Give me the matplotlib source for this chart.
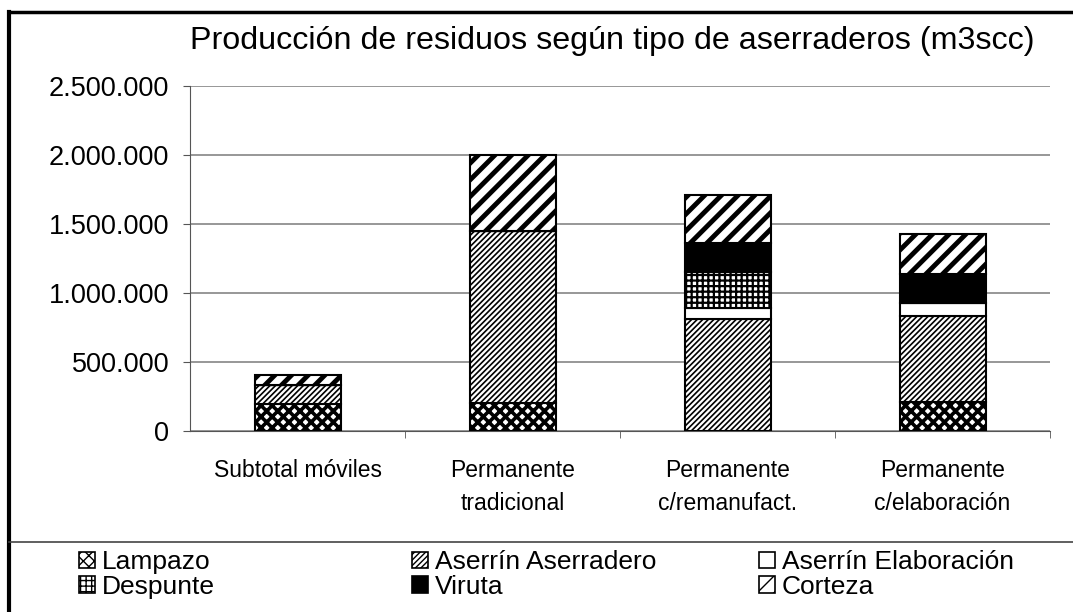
import matplotlib
matplotlib.use("Agg")
import matplotlib.pyplot as plt
from matplotlib.patches import Patch
from matplotlib.lines import Line2D
import numpy as np

plt.rcParams['font.family'] = ['Liberation Sans', 'DejaVu Sans']

categories = ["Subtotal móviles", "Permanente\ntradicional",
              "Permanente\nc/remanufact.", "Permanente\nc/elaboración"]
series_names = ["Lampazo", "Aserrín Aserradero", "Aserrín Elaboración",
                "Despunte", "Viruta", "Corteza"]
lampazo = [195000, 200000, 0, 210000]
aserrin_aserradero = [140000, 1250000, 810000, 620000]
aserrin_elaboracion = [0, 0, 80000, 100000]
despunte = [0, 0, 260000, 0]
viruta = [0, 0, 210000, 205000]
corteza = [70000, 550000, 350000, 290000]
yticks = [0, 500000, 1000000, 1500000, 2000000, 2500000]
ytick_labels = ["0", "500.000", "1.000.000", "1.500.000", "2.000.000", "2.500.000"]
title = "Producción de residuos según tipo de aserraderos (m3scc)"

series = [lampazo, aserrin_aserradero, aserrin_elaboracion, despunte, viruta, corteza]
styles = [
    dict(facecolor="white", hatch="xxx", hlw=2.6),
    dict(facecolor="white", hatch="//////", hlw=1.2),
    dict(facecolor="white", hatch=None, hlw=1.0),
    dict(facecolor="white", hatch="+++", hlw=1.6),
    dict(facecolor="black", hatch=None, hlw=1.0),
    dict(facecolor="white", hatch="//", hlw=3.5),
]

W, H = 1073, 612
fig = plt.figure(figsize=(W / 100, H / 100), dpi=100)
ax = fig.add_axes([190 / W, 1 - 431 / H, 860 / W, 345 / H])

x = np.arange(len(categories))
bottom = np.zeros(len(categories))
for vals, st in zip(series, styles):
    with plt.rc_context({'hatch.linewidth': st['hlw']}):
        bars = ax.bar(x, vals, width=0.4, bottom=bottom, facecolor=st['facecolor'],
                      edgecolor="black", linewidth=1.5, hatch=st['hatch'], zorder=3)
        for b in bars:
            if hasattr(b, "set_hatch_linewidth"):
                b.set_hatch_linewidth(st['hlw'])
    bottom += np.array(vals)

ax.set_xlim(-0.5, 3.5)
ax.set_ylim(0, 2500000)
ax.set_yticks(yticks)
ax.set_yticklabels(ytick_labels, fontsize=19.5)
ax.yaxis.grid(True, color="#7a7a7a", linewidth=1.1, zorder=0)
ax.set_axisbelow(True)
ax.set_xticks(x)
ax.set_xticklabels(categories, fontsize=16.5, linespacing=1.55)
ax.tick_params(axis="x", which="major", length=0, pad=20)
ax.set_xticks([0.5, 1.5, 2.5, 3.5], minor=True)
ax.tick_params(axis="x", which="minor", length=5, color="#555555")
ax.tick_params(axis="y", length=5, color="#555555", pad=10)
for s in ["top", "right"]:
    ax.spines[s].set_visible(False)
ax.spines["left"].set_color("#555555")
ax.spines["bottom"].set_color("#555555")

fig.text(612 / W, 1 - 41 / H, title, ha="center", va="center", fontsize=23.2)

# figure frame lines
fig.add_artist(Line2D([9 / W, 1], [1 - 12 / H, 1 - 12 / H], color="black", linewidth=2.5))
fig.add_artist(Line2D([9 / W, 9 / W], [0, 1 - 12 / H], color="black", linewidth=3))
fig.add_artist(Line2D([9 / W, 1], [1 - 542 / H, 1 - 542 / H], color="#444444", linewidth=1.2))

# legend
handles = []
for name, st in zip(series_names, styles):
    with plt.rc_context({'hatch.linewidth': min(st['hlw'], 1.5)}):
        p = Patch(facecolor=st['facecolor'], edgecolor="black", hatch=st['hatch'],
                  linewidth=1.2, label=name)
        if hasattr(p, "set_hatch_linewidth"):
            p.set_hatch_linewidth(min(st['hlw'], 1.5))
    handles.append(p)

order = [[0, 3], [1, 4], [2, 5]]
xpos = [74, 407, 754]
for col, xp in zip(order, xpos):
    fig.legend([handles[i] for i in col], [series_names[i] for i in col],
               loc="upper left", bbox_to_anchor=(xp / W, 1 - 545 / H),
               frameon=False, fontsize=19, handlelength=0.6, handleheight=0.6,
               handletextpad=0.25, labelspacing=0.02, borderaxespad=0, borderpad=0.2)

fig.savefig("out.png", dpi=100)
